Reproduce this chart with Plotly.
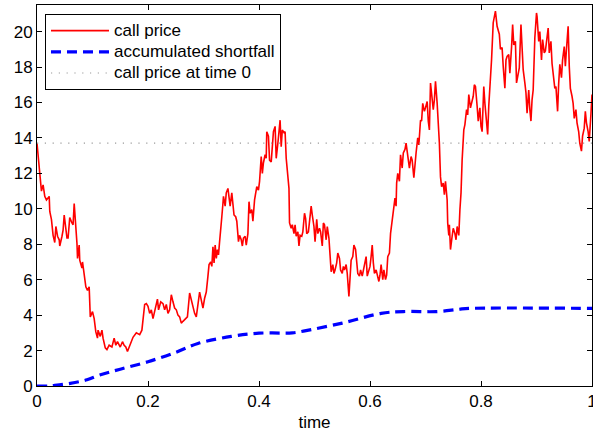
import plotly.graph_objects as go

# ---- data ----
time_call = [0.000,0.002,0.005,0.008,0.011,0.014,0.017,0.022,0.023,0.026,0.029,0.032,0.034,0.037,0.040,0.041,0.045,0.047,0.049,0.052,0.054,0.056,0.059,0.063,0.065,0.067,0.070,0.072,0.073,0.076,0.077,0.081,0.082,0.085,0.088,0.091,0.094,0.096,0.100,0.103,0.106,0.109,0.110,0.114,0.117,0.119,0.123,0.126,0.130,0.135,0.139,0.142,0.145,0.150,0.154,0.157,0.160,0.163,0.168,
0.173,0.179,0.185,0.189,0.191,0.194,0.197,0.200,0.203,0.206,0.209,0.212,0.215,0.217,0.219,0.223,0.227,0.230,0.233,0.236,0.239,0.242,0.245,0.248,0.251,0.254,0.257,0.260,0.263,0.267,0.271,0.275,0.278,0.281,0.284,0.287,0.290,0.293,0.296,0.299,0.302,0.305,0.308,0.310,0.313,0.315,0.317,0.319,0.321,0.323,0.325,0.327,0.329,0.331,0.333,
0.335,0.336,0.339,0.341,0.344,0.346,0.348,0.351,0.353,0.355,0.358,0.360,0.363,0.365,0.368,0.370,0.372,0.375,0.377,0.380,0.382,0.384,0.387,0.389,0.392,0.394,0.396,0.399,0.401,0.404,0.406,0.408,0.411,0.413,0.414,0.417,0.419,0.422,0.424,0.426,0.429,0.431,0.434,0.436,0.438,0.440,0.442,0.445,0.447,0.449,0.452,0.454,0.455,0.458,0.460,0.463,0.465,0.467,0.470,0.472,0.474,0.477,0.479,0.482,0.484,0.486,0.489,0.491,0.494,0.496,0.499,0.501,
0.504,0.506,0.509,0.511,0.514,0.516,0.518,0.521,0.523,0.526,0.528,0.530,0.533,0.535,0.537,0.540,0.542,0.545,0.547,0.550,0.552,0.554,0.557,0.559,0.562,0.564,0.566,0.569,0.571,0.574,0.576,0.578,0.581,0.583,0.586,0.588,0.590,0.593,0.595,0.598,0.600,0.602,0.604,0.606,0.608,0.611,0.613,0.616,0.618,0.620,0.623,0.625,0.628,0.630,0.632,0.635,0.637,0.640,0.642,0.645,0.647,0.648,0.650,0.653,0.655,0.658,0.660,0.663,0.665,0.667,0.669,
0.671,0.674,0.676,0.679,0.681,0.683,0.686,0.688,0.691,0.693,0.695,0.698,0.700,0.703,0.705,0.707,0.709,0.711,0.714,0.716,0.718,0.721,0.723,0.725,0.727,0.729,0.732,0.734,0.736,0.739,0.740,0.742,0.743,0.745,0.748,0.750,0.753,0.755,0.757,0.760,0.762,0.764,0.766,0.769,0.771,0.774,0.776,0.778,0.781,0.783,0.786,0.788,0.790,0.793,0.795,0.798,0.800,0.802,0.805,0.807,0.810,0.812,0.814,0.817,0.819,0.822,0.826,0.829,
0.833,0.835,0.838,0.840,0.843,0.845,0.847,0.850,0.852,0.855,0.857,0.859,0.862,0.864,0.867,0.869,0.872,0.874,0.876,0.879,0.881,0.883,0.886,0.888,0.890,0.892,0.894,0.897,0.900,0.901,0.904,0.906,0.909,0.911,0.914,0.916,0.918,0.921,0.923,0.926,0.928,0.930,0.933,0.935,0.938,0.940,0.942,0.945,0.947,0.950,0.952,0.954,0.957,0.959,0.961,0.964,0.966,0.968,0.971,0.973,0.976,0.978,0.981,0.983,0.986,0.988,0.990,0.993,0.995,0.998,1.000]

call_price = [13.7,13.1,12.2,11.0,11.35,10.7,10.5,10.7,9.85,9.4,8.5,8.1,9.0,8.45,8.25,7.9,8.45,8.8,9.65,8.8,8.35,8.35,9.5,9.2,9.1,10.3,9.2,8.05,7.2,7.95,7.1,6.65,7.0,6.35,5.6,5.4,5.6,3.9,4.2,3.8,3.05,2.7,3.15,2.8,3.15,2.7,2.15,2.05,2.3,2.2,2.7,2.3,2.5,2.2,2.5,2.3,2.2,1.95,2.4,
2.75,3.0,2.9,3.15,3.9,4.6,4.65,4.5,4.1,4.3,3.8,4.2,4.65,4.9,4.3,4.75,4.65,4.3,4.6,4.1,4.3,5.15,4.75,4.4,4.3,4.0,3.9,3.55,3.65,3.8,3.9,5.25,4.85,4.5,4.1,3.9,4.5,5.3,4.85,4.4,4.95,5.3,6.2,6.85,7.0,6.75,7.85,6.95,7.95,7.2,7.7,7.4,8.15,9.1,9.55,
10.3,10.7,10.15,10.9,11.15,10.7,10.15,10.9,10.3,9.65,9.55,9.3,8.15,8.5,8.25,7.9,8.35,8.45,7.95,8.6,10.4,9.75,9.95,9.3,10.5,10.8,11.25,11.05,11.55,12.95,12.0,12.6,13.05,12.85,14.35,14.1,12.75,12.65,13.9,14.35,14.65,12.85,13.7,14.35,15.0,13.5,14.45,14.3,14.35,12.85,11.9,11.15,9.2,8.9,9.1,8.6,9.1,8.45,8.7,7.9,8.5,8.45,8.7,9.75,9.45,8.6,8.7,9.2,10.15,9.65,9.0,8.15,
9.4,8.6,8.9,8.7,7.9,9.2,9.1,8.25,9.0,8.35,7.5,6.45,6.85,6.35,6.55,6.95,7.5,7.2,6.55,6.35,6.75,6.55,6.85,6.35,5.05,6.0,7.1,7.3,7.95,7.7,6.75,6.35,6.2,6.55,6.2,6.55,6.95,7.3,6.2,6.55,6.75,7.3,7.95,6.95,6.35,6.55,6.25,5.9,6.25,6.85,6.0,6.55,6.0,6.25,7.3,7.5,8.6,9.4,10.15,10.6,10.15,11.45,12.0,11.55,13.05,12.3,13.15,13.35,13.7,13.15,12.6,
12.3,12.95,12.75,11.75,12.75,13.15,14.0,13.6,15.0,14.95,15.95,15.5,15.7,16.05,14.95,14.45,17.1,16.35,15.6,16.15,17.2,15.95,14.95,13.7,11.8,11.25,11.45,10.8,11.55,10.5,9.2,8.5,9.1,7.7,8.45,8.9,8.6,8.25,9.0,8.5,9.95,10.9,12.75,14.45,14.75,15.6,15.3,16.45,15.7,16.05,16.35,17.0,16.9,15.8,14.95,15.7,14.65,14.35,16.9,15.95,15.0,14.2,15.8,17.1,18.4,20.5,21.15,20.3,
19.85,19.0,19.1,18.05,16.8,18.4,18.6,18.7,17.65,19.1,20.4,19.25,19.45,17.1,17.5,17.95,20.4,19.15,17.85,17.1,16.55,15.4,16.7,15.6,14.95,16.15,16.7,19.65,21.05,20.85,19.45,20.0,18.4,19.55,18.8,18.9,19.35,20.2,18.8,19.45,18.2,17.55,16.8,16.9,15.5,17.1,18.15,17.4,18.4,19.15,18.05,19.0,20.3,18.05,16.8,16.35,15.95,15.1,15.6,14.85,14.35,13.7,13.25,14.1,14.55,15.5,14.85,14.35,13.8,15.3,16.45]

time_shortfall = [0.0, 0.02, 0.03, 0.06, 0.09, 0.113, 0.15, 0.2, 0.25, 0.29, 0.35, 0.4, 0.46, 0.48, 0.55, 0.62, 0.66, 0.72, 0.76, 0.78, 1.0]
shortfall = [0.0, 0.0, 0.03, 0.15, 0.35, 0.62, 0.95, 1.37, 1.9, 2.4, 2.8, 2.98, 3.0, 3.1, 3.55, 4.1, 4.2, 4.2, 4.33, 4.38, 4.38]

time_c0 = [0.0, 1.0]
call_price_0 = [13.7, 13.7]

series_names = ["call price", "accumulated shortfall", "call price at time 0"]
x_ticks = [0, 0.2, 0.4, 0.6, 0.8, 1]
x_tick_labels = ["0", "0.2", "0.4", "0.6", "0.8", "1"]
y_ticks = [0, 2, 4, 6, 8, 10, 12, 14, 16, 18, 20]

FONT = "Liberation Sans, Arial, Helvetica, sans-serif"
FS = 17


def legend_label(s):
    return "<span style='font-size:17px'>" + s + "</span>"


fig = go.Figure()
fig.add_trace(go.Scatter(x=time_call, y=call_price, mode="lines", name=legend_label(series_names[0]),
                         line=dict(color="#ff0000", width=1.6)))
fig.add_trace(go.Scatter(x=time_shortfall, y=shortfall, mode="lines", name=legend_label(series_names[1]),
                         line=dict(color="#0000ff", width=3.2, dash="10px,6px", shape="spline")))
fig.add_trace(go.Scatter(x=time_c0, y=call_price_0, mode="lines", name=legend_label(series_names[2]),
                         line=dict(color="#9a9a9a", width=1.2, dash="1.2px,6.6px")))

axis_common = dict(showline=True, linecolor="black", linewidth=1, mirror="ticks",
                   ticks="inside", ticklen=5, tickcolor="black", tickwidth=1,
                   showgrid=False, zeroline=False, automargin=False,
                   ticklabeloverflow="allow",
                   tickfont=dict(family=FONT, size=FS, color="black"))

fig.update_layout(
    width=593, height=432,
    margin=dict(l=37, r=1, t=5, b=46, autoexpand=False),
    paper_bgcolor="white", plot_bgcolor="white",
    font=dict(family=FONT, size=FS, color="black"),
    xaxis=dict(range=[0, 1], tickvals=x_ticks, ticktext=x_tick_labels,
               title=dict(text="time", font=dict(family=FONT, size=FS), standoff=6),
               **axis_common),
    yaxis=dict(range=[0, 21.5], tickvals=y_ticks, **axis_common),
    legend=dict(x=0.0144, y=0.9764, xanchor="left", yanchor="top",
                bgcolor="white", bordercolor="black", borderwidth=1,
                font=dict(family=FONT, size=14, color="black"),
                itemwidth=58, tracegroupgap=0),
    showlegend=True,
    hovermode=False,
)

fig.write_html("out.html",
               config={"displayModeBar": False, "staticPlot": True},
               post_script="document.body.style.margin='0';document.body.style.overflow='hidden';")
